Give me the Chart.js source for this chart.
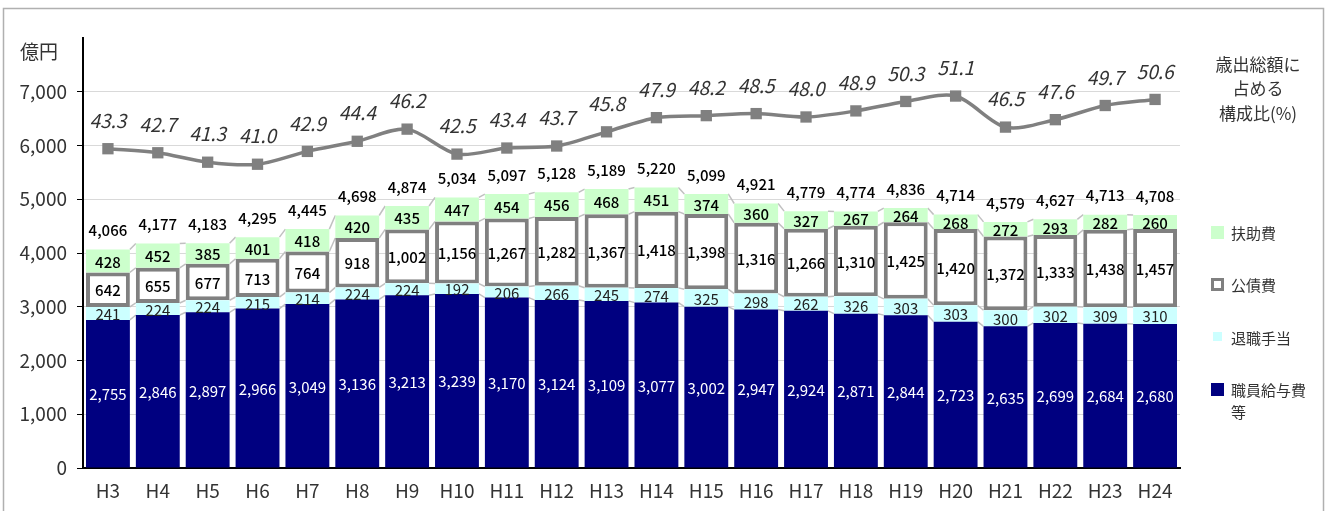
<!DOCTYPE html>
<html lang="ja">
<head>
<meta charset="utf-8">
<title>人件費等の推移</title>
<script src="https://cdn.jsdelivr.net/npm/chart.js@4/dist/chart.umd.min.js"></script>
<style>
  html, body { margin: 0; padding: 0; background: #fff; }
  #wrap { width: 1330px; height: 511px; position: relative; }
</style>
</head>
<body>
<div id="wrap"><canvas id="chart" width="1330" height="511"></canvas></div>
<script>
// 年度
const years = ['H3','H4','H5','H6','H7','H8','H9','H10','H11','H12','H13','H14','H15','H16','H17','H18','H19','H20','H21','H22','H23','H24'];

// 億円
const salary = [2755,2846,2897,2966,3049,3136,3213,3239,3170,3124,3109,3077,3002,2947,2924,2871,2844,2723,2635,2699,2684,2680];
const retire = [241,224,224,215,214,224,224,192,206,266,245,274,325,298,262,326,303,303,300,302,309,310];
const debt   = [642,655,677,713,764,918,1002,1156,1267,1282,1367,1418,1398,1316,1266,1310,1425,1420,1372,1333,1438,1457];
const aid    = [428,452,385,401,418,420,435,447,454,456,468,451,374,360,327,267,264,268,272,293,282,260];
const totals = [4066,4177,4183,4295,4445,4698,4874,5034,5097,5128,5189,5220,5099,4921,4779,4774,4836,4714,4579,4627,4713,4708];

// 歳出総額に占める構成比(%)
const ratio = [43.3,42.7,41.3,41.0,42.9,44.4,46.2,42.5,43.4,43.7,45.8,47.9,48.2,48.5,48.0,48.9,50.3,51.1,46.5,47.6,49.7,50.6];

const yTicksMax = 8000;
const FONT = '"Noto Sans CJK JP", "Noto Sans", sans-serif';
const fmt = v => v.toLocaleString('en-US');

// Excel style series lines between stacked segments
const seriesLines = {
    id: 'seriesLines',
    beforeDatasetsDraw(chart) {
        const ctx = chart.ctx;
        ctx.save();
        ctx.strokeStyle = '#c0c0c0';
        ctx.lineWidth = 1.5;
        for (let d = 0; d < 4; d++) {
            const pts = chart.getDatasetMeta(d).data;
            for (let i = 0; i < pts.length - 1; i++) {
                const a = pts[i], b = pts[i + 1];
                ctx.beginPath();
                ctx.moveTo(a.x + a.width / 2, a.y);
                ctx.lineTo(b.x - b.width / 2, b.y);
                ctx.stroke();
            }
        }
        ctx.restore();
    }
};

const valueLabels = {
    id: 'valueLabels',
    afterDatasetsDraw(chart) {
        const ctx = chart.ctx;
        ctx.save();
        ctx.textAlign = 'center';
        ctx.textBaseline = 'middle';
        const colors = ['#ffffff', '#222', '#000', '#000'];
        const weights = ['400', '400', '500', '500'];
        for (let d = 0; d < 4; d++) {
            const meta = chart.getDatasetMeta(d);
            const vals = chart.data.datasets[d].data;
            ctx.font = weights[d] + ' 15px ' + FONT;
            meta.data.forEach((el, i) => {
                ctx.fillStyle = colors[d];
                ctx.fillText(fmt(vals[i]), el.x, (el.y + el.base) / 2 + 1);
            });
        }
        // totals
        ctx.font = '500 15px ' + FONT;
        const top = chart.getDatasetMeta(3).data;
        ctx.fillStyle = '#000';
        top.forEach((el, i) => ctx.fillText(fmt(totals[i]), el.x, el.y - 19));

        // ratio labels
        ctx.font = 'italic 19px ' + FONT;
        ctx.fillStyle = '#333';
        chart.getDatasetMeta(4).data.forEach((pt, i) => {
            ctx.fillText(ratio[i].toFixed(1), pt.x, pt.y - 28);
        });
        ctx.restore();
    },
    afterDraw(chart) {
        const ctx = chart.ctx;
        ctx.save();
        // frame
        ctx.strokeStyle = '#b0b0b0';
        ctx.lineWidth = 1.5;
        ctx.strokeRect(3.5, 8.5, 1320, 520);

        ctx.fillStyle = '#333';
        ctx.textBaseline = 'middle';
        ctx.textAlign = 'center';
        ctx.font = '19px ' + FONT;
        ctx.fillText('億円', 39, 52);

        ctx.font = '17px ' + FONT;
        ctx.fillText('歳出総額に', 1258, 65);
        ctx.fillText('占める', 1258, 89);
        ctx.fillText('構成比(%)', 1258, 114);

        // legend
        ctx.textAlign = 'left';
        ctx.font = '15px ' + FONT;
        ctx.fillStyle = '#ccffcc';
        ctx.fillRect(1211, 226, 13, 13);
        ctx.fillStyle = '#333';
        ctx.fillText('扶助費', 1231, 233);

        ctx.fillStyle = '#fff';
        ctx.fillRect(1211, 278, 12, 12);
        ctx.strokeStyle = '#808080';
        ctx.lineWidth = 3;
        ctx.strokeRect(1212.5, 279.5, 10, 10);
        ctx.fillStyle = '#333';
        ctx.fillText('公債費', 1231, 285);

        ctx.fillStyle = '#ccffff';
        ctx.fillRect(1213, 332, 9, 9);
        ctx.fillStyle = '#333';
        ctx.fillText('退職手当', 1231, 338);

        ctx.fillStyle = '#000080';
        ctx.fillRect(1211, 383, 13, 13);
        ctx.fillStyle = '#333';
        ctx.fillText('職員給与費', 1231, 390);
        ctx.fillText('等', 1231, 412);
        ctx.restore();
    }
};

const barCommon = { type: 'bar', stack: 's', order: 1, barPercentage: 0.88, categoryPercentage: 1.0, yAxisID: 'y' };

new Chart(document.getElementById('chart'), {
    data: {
        labels: years,
        datasets: [
            { ...barCommon, label: '職員給与費等', data: salary, backgroundColor: '#000080', borderWidth: 0 },
            { ...barCommon, label: '退職手当', data: retire, backgroundColor: '#ccffff', borderWidth: 0 },
            { ...barCommon, label: '公債費', data: debt, backgroundColor: '#ffffff', borderColor: '#808080', borderWidth: 4, borderSkipped: false },
            { ...barCommon, label: '扶助費', data: aid, backgroundColor: '#ccffcc', borderWidth: 0 },
            {
                type: 'line', label: '構成比', data: ratio, yAxisID: 'y2', order: 0,
                borderColor: '#808080', borderWidth: 3.5, tension: 0.3,
                pointStyle: 'rect', pointRadius: 8, pointBackgroundColor: '#808080', pointBorderWidth: 0
            }
        ]
    },
    options: {
        responsive: false,
        animation: false,
        layout: { padding: { left: 0, right: 150, top: 38, bottom: 0 } },
        plugins: { legend: { display: false }, tooltip: { enabled: false } },
        scales: {
            x: {
                stacked: true,
                grid: { display: false, drawTicks: false },
                border: { display: true, color: '#000', width: 2 },
                ticks: { color: '#333', padding: 11, font: { family: FONT, size: 19 } },
                afterFit(s) { s.height = 43; }
            },
            y: {
                stacked: true, min: 0, max: yTicksMax,
                border: { color: '#000', width: 2 },
                grid: {
                    color: c => (c.tick && c.tick.value === yTicksMax) ? 'rgba(0,0,0,0)' : '#d9d9d9',
                    tickColor: c => (c.tick && c.tick.value === yTicksMax) ? 'rgba(0,0,0,0)' : '#000',
                    tickLength: 6, lineWidth: 1
                },
                ticks: {
                    stepSize: 1000, padding: 10, color: '#333',
                    font: { family: FONT, size: 19 },
                    callback: v => v === yTicksMax ? '' : fmt(v)
                },
                afterFit(s) { s.width = 83; }
            },
            y2: { display: false, min: -4, max: 59.7 }
        }
    },
    plugins: [seriesLines, valueLabels]
});
</script>
</body>
</html>
